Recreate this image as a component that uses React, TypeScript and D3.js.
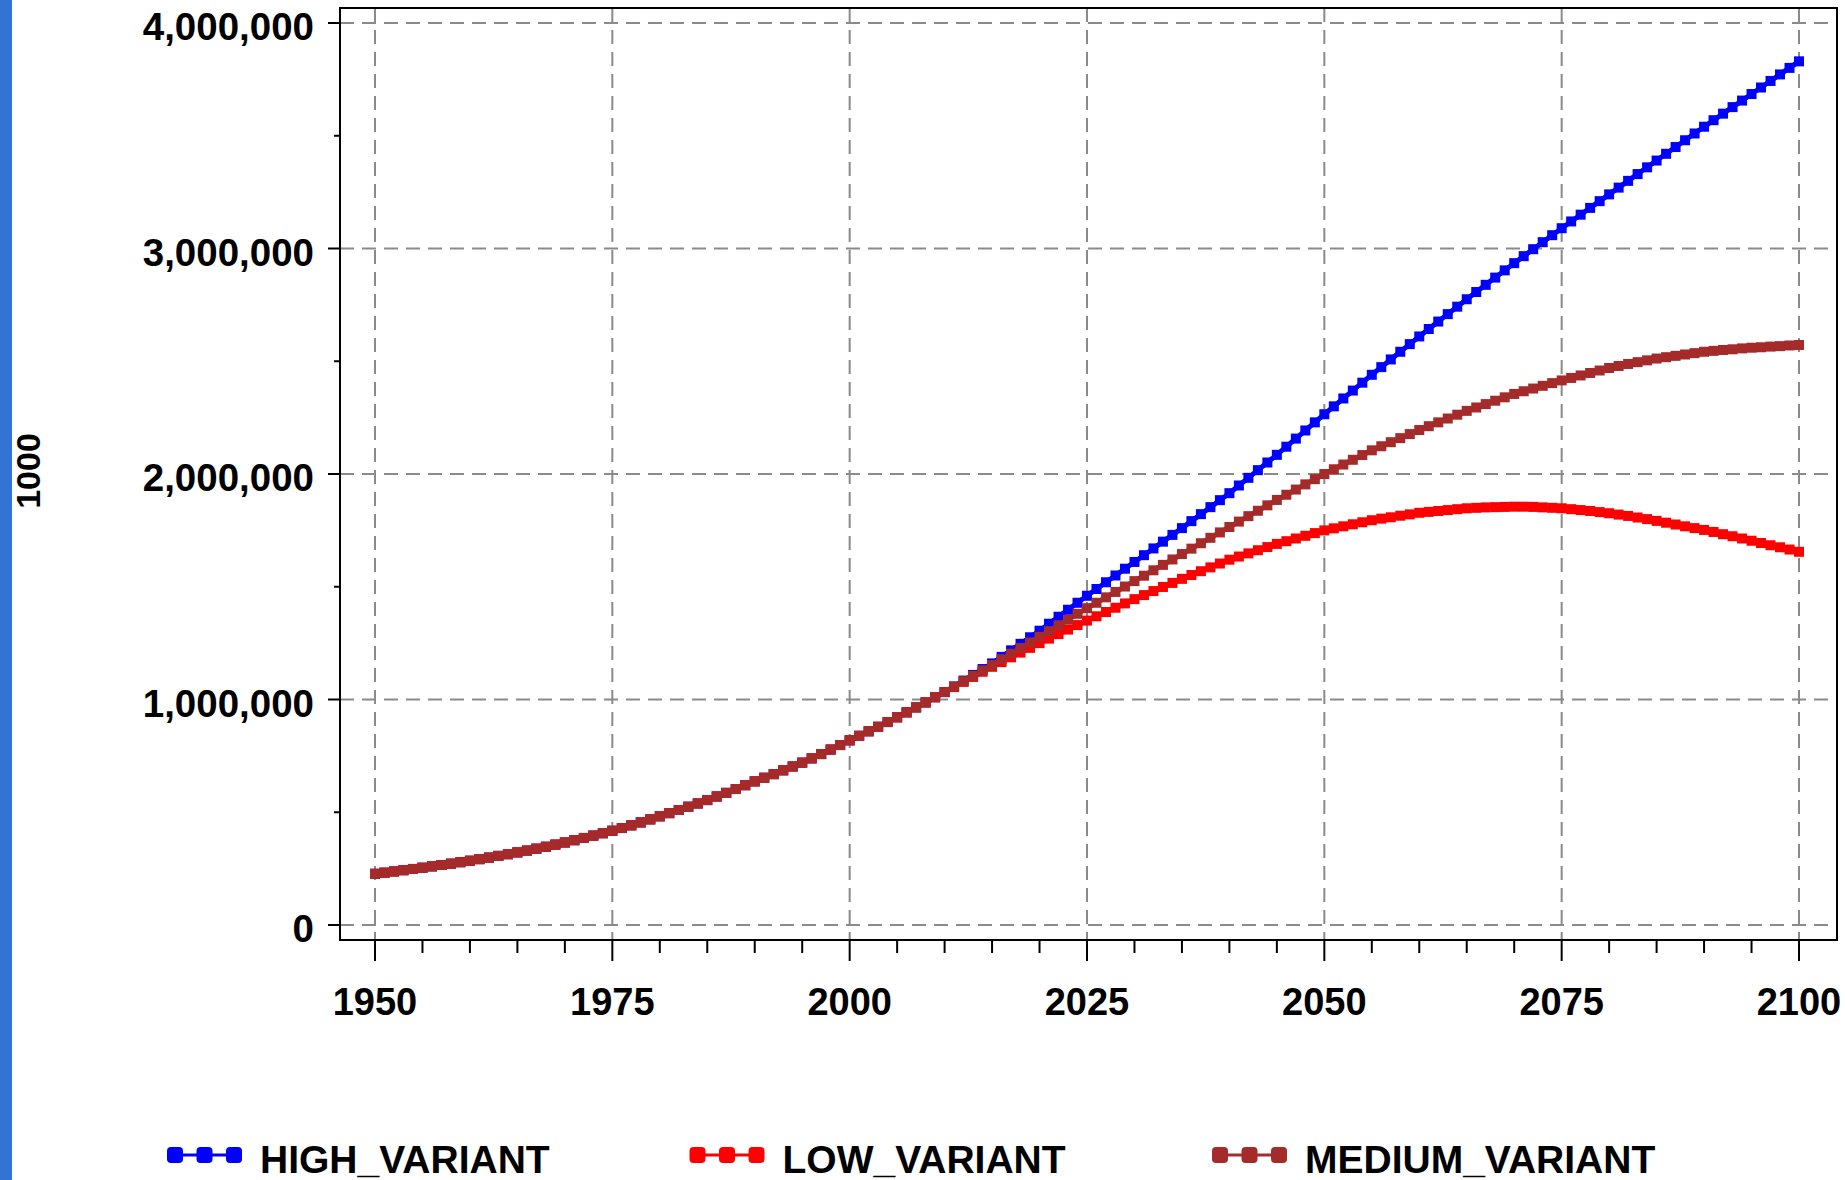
import React from "react";
import * as d3 from "d3";

// ---- data (thousands of people) ----
const FIRST_YEAR = 1950;
const LAST_YEAR = 2100;

// shared estimates 1950..2010
const ESTIMATES = [
  227000, 232000, 237500, 243000, 248500, 254000, 260000, 266000, 272000, 278500,
  285000, 292000, 299000, 306500, 314000, 322000, 330000, 338500, 347000, 356500,
  366000, 376000, 386000, 396500, 407000, 418000, 430000, 442000, 455000, 468500,
  482000, 496000, 510000, 524500, 539000, 554000, 570000, 586000, 603000, 620000,
  637000, 653000, 669000, 686000, 703000, 720000, 739000, 758000, 778000, 798000,
  819000, 839000, 859000, 879000, 900000, 921000, 943000, 965000, 987000, 1010000,
  1033000,
];

// projections 2011..2100
const HIGH_PROJ = [
  1058000, 1084000, 1109000, 1135000, 1160000,
  1189000, 1218000, 1247000, 1276000, 1305000,
  1336000, 1367000, 1398000, 1429000, 1460000,
  1490000, 1520000, 1550000, 1580000, 1610000,
  1640000, 1670000, 1700000, 1730000, 1760000,
  1791000, 1822000, 1853000, 1884000, 1915000,
  1949000, 1983000, 2017000, 2051000, 2085000,
  2121000, 2157000, 2193000, 2229000, 2265000,
  2300000, 2335000, 2370000, 2405000, 2440000,
  2474000, 2508000, 2542000, 2576000, 2610000,
  2643000, 2676000, 2709000, 2742000, 2775000,
  2807000, 2839000, 2871000, 2903000, 2935000,
  2966000, 2997000, 3028000, 3059000, 3090000,
  3120000, 3150000, 3180000, 3210000, 3240000,
  3270000, 3300000, 3330000, 3360000, 3390000,
  3420000, 3450000, 3480000, 3510000, 3540000,
  3569000, 3598000, 3627000, 3656000, 3685000,
  3714000, 3743000, 3772000, 3801000, 3830000,
];

const LOW_PROJ = [
  1055000, 1078000, 1100000, 1123000, 1145000,
  1166000, 1187000, 1208000, 1229000, 1250000,
  1270000, 1290000, 1310000, 1330000, 1350000,
  1369000, 1388000, 1407000, 1426000, 1445000,
  1463000, 1481000, 1499000, 1517000, 1535000,
  1552000, 1569000, 1586000, 1603000, 1620000,
  1634000, 1648000, 1662000, 1676000, 1690000,
  1702000, 1714000, 1726000, 1738000, 1750000,
  1759000, 1768000, 1777000, 1786000, 1795000,
  1802000, 1808000, 1815000, 1821000, 1828000,
  1832000, 1836000, 1840000, 1844000, 1848000,
  1850000, 1852000, 1853000, 1854000, 1855000,
  1855000, 1854000, 1852000, 1850000, 1848000,
  1844000, 1840000, 1836000, 1831000, 1826000,
  1820000, 1814000, 1807000, 1800000, 1792000,
  1784000, 1776000, 1768000, 1760000, 1752000,
  1743000, 1733000, 1724000, 1714000, 1704000,
  1694000, 1684000, 1675000, 1665000, 1655000,
];

const MEDIUM_PROJ = [
  1057000, 1081000, 1105000, 1129000, 1153000,
  1178000, 1203000, 1228000, 1253000, 1278000,
  1303000, 1329000, 1354000, 1380000, 1405000,
  1429000, 1453000, 1477000, 1501000, 1525000,
  1549000, 1573000, 1597000, 1621000, 1645000,
  1669000, 1693000, 1717000, 1741000, 1765000,
  1789000, 1813000, 1837000, 1861000, 1885000,
  1908000, 1931000, 1954000, 1977000, 2000000,
  2021000, 2042000, 2063000, 2084000, 2105000,
  2123000, 2141000, 2159000, 2177000, 2195000,
  2212000, 2229000, 2246000, 2263000, 2280000,
  2295000, 2310000, 2325000, 2340000, 2355000,
  2367000, 2379000, 2391000, 2403000, 2415000,
  2426000, 2437000, 2448000, 2459000, 2470000,
  2479000, 2488000, 2496000, 2504000, 2512000,
  2518000, 2524000, 2530000, 2536000, 2542000,
  2546000, 2550000, 2553000, 2557000, 2560000,
  2562000, 2565000, 2567000, 2570000, 2572000,
];

const SERIES_NAMES = ["HIGH_VARIANT", "LOW_VARIANT", "MEDIUM_VARIANT"];
const SERIES_COLORS = ["#0000ff", "#ff0000", "#a52a2a"];
const SERIES_VALUES = [
  [...ESTIMATES, ...HIGH_PROJ],
  [...ESTIMATES, ...LOW_PROJ],
  [...ESTIMATES, ...MEDIUM_PROJ],
];

const X_TICKS = [1950, 1975, 2000, 2025, 2050, 2075, 2100];
const Y_TICKS = [0, 1000000, 2000000, 3000000, 4000000];
const Y_AXIS_TITLE = "1000";

// ---- layout ----
const W = 1845;
const H = 1180;
const FRAME = { left: 340, top: 8, right: 1837, bottom: 940 };
const FONT = "'Liberation Sans', Arial, Helvetica, sans-serif";

export default function App() {
  const x = d3.scaleLinear().domain([1950, 2100]).range([375, 1799]);
  const y = d3.scaleLinear().domain([0, 4000000]).range([925, 23]);

  const years = d3.range(FIRST_YEAR, LAST_YEAR + 1);
  const series = SERIES_VALUES.map((vals) =>
    vals.map((v, i) => ({ year: years[i], value: v }))
  );

  const line = d3
    .line<{ year: number; value: number }>()
    .x((d) => x(d.year))
    .y((d) => y(d.value));

  const minorX = d3.range(1950, 2101, 5).filter((v) => !X_TICKS.includes(v));
  const minorY = d3.range(500000, 4000001, 1000000);

  const grid = "#8a8a8a";
  const dash = "14,8";
  const mk = 10;

  return (
    <svg
      width={W}
      height={H}
      style={{ position: "absolute", left: 0, top: 0, background: "#fff" }}
      fontFamily={FONT}
    >
      <rect x={0} y={0} width={W} height={H} fill="#fff" />
      <rect x={0} y={0} width={12} height={H} fill="#3274d3" />

      {/* gridlines */}
      {X_TICKS.map((t) => (
        <line
          key={"gx" + t}
          x1={x(t)}
          x2={x(t)}
          y1={FRAME.top}
          y2={FRAME.bottom}
          stroke={grid}
          strokeWidth={2}
          strokeDasharray={dash}
        />
      ))}
      {Y_TICKS.map((t) => (
        <line
          key={"gy" + t}
          x1={FRAME.left}
          x2={FRAME.right}
          y1={y(t)}
          y2={y(t)}
          stroke={grid}
          strokeWidth={2}
          strokeDasharray={dash}
        />
      ))}

      {/* series */}
      {series.map((s, i) => (
        <g key={SERIES_NAMES[i]}>
          <path
            d={line(s) || ""}
            fill="none"
            stroke={SERIES_COLORS[i]}
            strokeWidth={5}
          />
          {s.map((d) => (
            <rect
              key={d.year}
              x={x(d.year) - mk / 2}
              y={y(d.value) - mk / 2}
              width={mk}
              height={mk}
              fill={SERIES_COLORS[i]}
            />
          ))}
        </g>
      ))}

      {/* frame */}
      <rect
        x={FRAME.left}
        y={FRAME.top}
        width={FRAME.right - FRAME.left}
        height={FRAME.bottom - FRAME.top}
        fill="none"
        stroke="#000"
        strokeWidth={2}
      />

      {/* y axis */}
      {Y_TICKS.map((t) => (
        <g key={"yt" + t}>
          <line x1={FRAME.left - 12} x2={FRAME.left} y1={y(t)} y2={y(t)} stroke="#000" strokeWidth={2} />
          <text
            x={314}
            y={y(t) + 17}
            textAnchor="end"
            fontSize={38.5}
            fontWeight="bold"
            fill="#000"
          >
            {d3.format(",")(t)}
          </text>
        </g>
      ))}
      {minorY.map((t) => (
        <line key={"ym" + t} x1={FRAME.left - 6} x2={FRAME.left} y1={y(t)} y2={y(t)} stroke="#000" strokeWidth={2} />
      ))}

      {/* x axis */}
      {X_TICKS.map((t) => (
        <g key={"xt" + t}>
          <line x1={x(t)} x2={x(t)} y1={FRAME.bottom} y2={FRAME.bottom + 21} stroke="#000" strokeWidth={2} />
          <text
            x={x(t)}
            y={1015}
            textAnchor="middle"
            fontSize={38}
            fontWeight="bold"
            fill="#000"
          >
            {String(t)}
          </text>
        </g>
      ))}
      {minorX.map((t) => (
        <line key={"xm" + t} x1={x(t)} x2={x(t)} y1={FRAME.bottom} y2={FRAME.bottom + 13} stroke="#000" strokeWidth={2} />
      ))}

      {/* y axis title */}
      <text
        transform="translate(40,471) rotate(-90)"
        textAnchor="middle"
        fontSize={34}
        fontWeight="bold"
        fill="#000"
      >
        {Y_AXIS_TITLE}
      </text>

      {/* legend */}
      {SERIES_NAMES.map((name, i) => {
        const x0 = 167 + i * 522.5;
        const cy = 1155;
        return (
          <g key={"lg" + name}>
            <line x1={x0 + 4} x2={x0 + 70} y1={cy} y2={cy} stroke={SERIES_COLORS[i]} strokeWidth={3} />
            {[0, 1, 2].map((k) => (
              <rect
                key={k}
                x={x0 + k * 29.5}
                y={cy - 8}
                width={16}
                height={16}
                rx={4}
                fill={SERIES_COLORS[i]}
              />
            ))}
            <text x={x0 + 93} y={1173} fontSize={39} fontWeight="bold" fill="#000">
              {name}
            </text>
          </g>
        );
      })}
    </svg>
  );
}
